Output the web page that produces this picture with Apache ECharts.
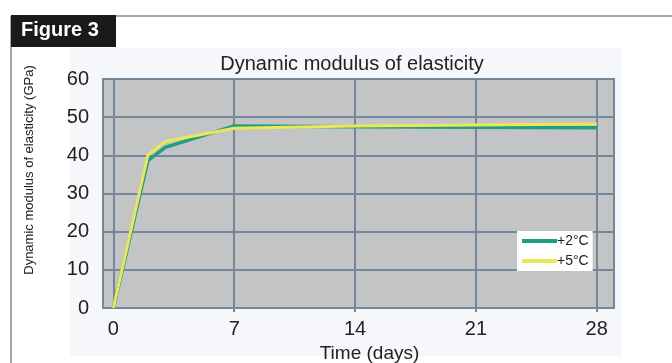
<!DOCTYPE html>
<html>
<head>
<meta charset="utf-8">
<script src="https://cdn.jsdelivr.net/npm/echarts@6/dist/echarts.min.js"></script>
<style>
  html, body { margin: 0; padding: 0; background: #fff; }
  #main { width: 672px; height: 363px; }
</style>
</head>
<body>
<div id="main"></div>
<script>
// time in days and modulus in GPa
const days = [0, 2, 3, 7, 14, 28];
const warm2 = [0, 38.6, 42.1, 47.7, 47.5, 47.2];
const warm5 = [0, 40.1, 43.6, 47.1, 47.7, 48.2];
const xLabels = [0, 7, 14, 21, 28];
const xGridAt = [7, 14, 21, 28];
const seriesNames = ['+2°C', '+5°C'];

const gridColor = '#74879a';
const font = 'Liberation Sans, Arial, sans-serif';

function pairs(xs, ys) {
  return xs.map(function (x, i) { return [x, ys[i]]; });
}

// echarts cycles split line colours; the day-0 line lands on the last slot,
// keep it invisible so only 7..28 get a vertical line
const hide = 'rgba(0,0,0,0)';
const xSplitColors = [gridColor, gridColor, gridColor, gridColor, hide];

const chart = echarts.init(document.getElementById('main'));

const option = {
  backgroundColor: '#fff',
  animation: false,
  textStyle: { fontFamily: font },
  title: {
    text: 'Dynamic modulus of elasticity',
    left: 347,
    textAlign: 'center',
    top: 49,
    textStyle: { fontSize: 20, fontWeight: 'normal', color: '#222', fontFamily: font }
  },
  graphic: [
    // pale panel behind the chart
    { type: 'rect', z: -10, shape: { x: 70, y: 48, width: 552, height: 308 }, style: { fill: '#f5f7fa' } },
    // frame
    { type: 'line', shape: { x1: 11, y1: 16, x2: 672, y2: 16 }, style: { stroke: '#8a8a8a', lineWidth: 1.5 } },
    { type: 'line', shape: { x1: 11, y1: 16, x2: 11, y2: 363 }, style: { stroke: '#8a8a8a', lineWidth: 1.5 } },
    { type: 'rect', shape: { x: 11, y: 15, width: 105, height: 32 }, style: { fill: '#1a1a1a' } },
    { type: 'text', left: 21, top: 20, style: { text: 'Figure 3', fill: '#fff', font: 'bold 20px ' + font } },
    // y axis title
    { type: 'text', x: 29, y: 170, rotation: Math.PI / 2,
      style: { text: 'Dynamic modulus of elasticity (GPa)', fill: '#222', font: '13px ' + font,
               align: 'center', verticalAlign: 'middle' } }
  ],
  legend: {
    data: seriesNames,
    orient: 'vertical',
    left: 517,
    top: 231,
    backgroundColor: '#fff',
    padding: [3, 4, 3, 5],
    itemWidth: 35,
    itemHeight: 4,
    itemGap: 6,
    icon: 'rect',
    textStyle: { fontSize: 14, color: '#222', padding: [0, 0, 0, -5] }
  },
  grid: {
    left: 103,
    top: 79,
    width: 511,
    height: 229,
    outerBoundsMode: 'none',
    containLabel: false,
    show: true,
    backgroundColor: '#c3c4c6',
    borderColor: gridColor,
    borderWidth: 2
  },
  xAxis: {
    type: 'value',
    min: -0.6,
    max: 29,
    name: 'Time (days)',
    nameLocation: 'middle',
    nameGap: 33,
    nameTextStyle: { fontSize: 19, color: '#222', padding: [0, 0, 0, 22] },
    axisLine: { show: true, lineStyle: { color: gridColor, width: 2 } },
    axisTick: { show: true, length: 4, customValues: xGridAt, lineStyle: { color: gridColor, width: 2 } },
    axisLabel: { customValues: xLabels, fontSize: 20, color: '#222', margin: 11 },
    splitLine: { show: true, lineStyle: { color: xSplitColors, width: 2 } }
  },
  yAxis: {
    type: 'value',
    min: 0,
    max: 60,
    interval: 10,
    axisLine: { show: true, lineStyle: { color: gridColor, width: 2 } },
    axisTick: { show: true, length: 4, lineStyle: { color: gridColor, width: 2 } },
    axisLabel: { fontSize: 20, color: '#222', margin: 14 },
    splitLine: { show: true, lineStyle: { color: gridColor, width: 2 } }
  },
  series: [
    {
      name: seriesNames[0],
      type: 'line',
      data: pairs(days, warm2),
      showSymbol: false,
      symbol: 'none',
      lineStyle: { color: '#1e9e82', width: 3.5 },
      itemStyle: { color: '#1e9e82' },
      z: 2
    },
    {
      name: seriesNames[1],
      type: 'line',
      data: pairs(days, warm5),
      showSymbol: false,
      symbol: 'none',
      lineStyle: { color: '#ece755', width: 3 },
      itemStyle: { color: '#ece755' },
      z: 3
    }
  ]
};

chart.setOption(option);
</script>
</body>
</html>
